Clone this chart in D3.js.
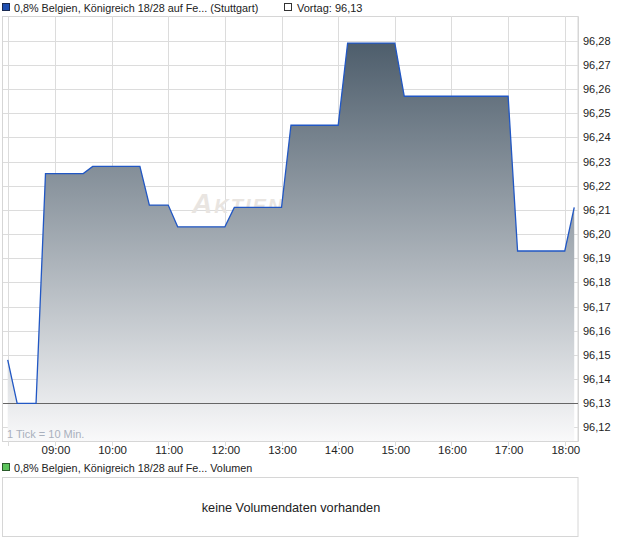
<!DOCTYPE html>
<html><head><meta charset="utf-8">
<script src="https://cdn.jsdelivr.net/npm/d3@7/dist/d3.min.js"></script>
<style>
body{margin:0;background:#fff;}
text{font-family:"Liberation Sans",Arial,sans-serif;}
</style></head>
<body><svg id="c" width="620" height="546"></svg>
<script>
// ---- data ----
const startTime = "08:10";            // first tick
const tickMinutes = 10;               // 1 Tick = 10 Min.
const prices = [
  96.148,
  96.13, 96.13, 96.13,
  96.225, 96.225, 96.225, 96.225, 96.225,
  96.228, 96.228, 96.228, 96.228, 96.228, 96.228,
  96.212, 96.212, 96.212,
  96.203, 96.203, 96.203, 96.203, 96.203, 96.203,
  96.211, 96.211, 96.211, 96.211, 96.211, 96.211,
  96.245, 96.245, 96.245, 96.245, 96.245, 96.245,
  96.279, 96.279, 96.279, 96.279, 96.279, 96.279,
  96.257, 96.257, 96.257, 96.257, 96.257, 96.257, 96.257, 96.257, 96.257, 96.257, 96.257, 96.257,
  96.193, 96.193, 96.193, 96.193, 96.193, 96.193,
  96.211
];
const previousClose = 96.13;
const xTickLabels = ["09:00","10:00","11:00","12:00","13:00","14:00","15:00","16:00","17:00","18:00"];
const yTickValues = [96.12,96.13,96.14,96.15,96.16,96.17,96.18,96.19,96.20,96.21,96.22,96.23,96.24,96.25,96.26,96.27,96.28];
const titlePrice = "0,8% Belgien, Königreich 18/28 auf Fe... (Stuttgart)";
const titlePrev = "Vortag: 96,13";
const titleVol = "0,8% Belgien, Königreich 18/28 auf Fe... Volumen";
const noVolText = "keine Volumendaten vorhanden";
const tickNote = "1 Tick = 10 Min.";

// ---- setup ----
const parse = d3.timeParse("%H:%M");
const t0 = parse(startTime);
const series = prices.map((v,i)=>({t:new Date(t0.getTime()+i*tickMinutes*60000), v}));
const fmtNum = v => d3.format(".2f")(v).replace(".", ",");

const svg = d3.select("#c");
const L=3, R=578, T=16, B=441;
const x = d3.scaleTime().domain([parse("08:05"), parse("18:14")]).range([L,R]);
const y = d3.scaleLinear().domain([96.1144, 96.2902]).range([B,T]);

// gradient
const defs = svg.append("defs");
const g = defs.append("linearGradient").attr("id","fillg")
  .attr("gradientUnits","userSpaceOnUse").attr("x1",0).attr("x2",0).attr("y1",T).attr("y2",B);
g.append("stop").attr("offset","0%").attr("stop-color","#425362");
g.append("stop").attr("offset","100%").attr("stop-color","#f9f9fa");

// frame background
svg.append("rect").attr("x",2.5).attr("y",T+0.5).attr("width",R-2.5).attr("height",B-T)
  .attr("fill","#fff").attr("stroke","#d6d6d6");

// grid
const gridColor="#dcdcdc";
svg.append("g").selectAll("line").data(yTickValues).join("line")
  .attr("x1",L).attr("x2",R)
  .attr("y1",d=>Math.round(y(d))+0.5).attr("y2",d=>Math.round(y(d))+0.5)
  .attr("stroke",gridColor);
const vTicks = [t0].concat(xTickLabels.map(parse));
svg.append("g").selectAll("line").data(vTicks).join("line")
  .attr("x1",d=>Math.round(x(d))+0.5).attr("x2",d=>Math.round(x(d))+0.5)
  .attr("y1",T).attr("y2",B+5)
  .attr("stroke",gridColor);

// watermark
svg.append("text").attr("x",192).attr("y",213)
  .attr("font-size",28).attr("font-style","italic").attr("font-weight","bold")
  .attr("font-variant","small-caps").attr("fill","#e9e5e1").attr("letter-spacing",2)
  .text("AktienCheck");

// area
const area = d3.area().x(d=>x(d.t)).y0(B).y1(d=>y(d.v));
svg.append("path").datum(series).attr("d",area).attr("fill","url(#fillg)");

// previous close line
svg.append("line").attr("x1",L).attr("x2",R)
  .attr("y1",Math.round(y(previousClose))+0.5).attr("y2",Math.round(y(previousClose))+0.5)
  .attr("stroke","#666").attr("stroke-width",1);

// price line
const line = d3.line().x(d=>x(d.t)).y(d=>y(d.v));
svg.append("path").datum(series).attr("d",line).attr("fill","none")
  .attr("stroke","#2157c4").attr("stroke-width",1.3);

// right axis
const yAxis = d3.axisRight(y).tickValues(yTickValues).tickFormat(fmtNum).tickSize(0).tickPadding(5);
const ya = svg.append("g").attr("transform",`translate(${R},0)`).call(yAxis);
ya.select(".domain").attr("stroke","#d6d6d6");
ya.selectAll("text").attr("font-size",11).attr("fill","#222").attr("font-family","Liberation Sans, Arial, sans-serif");

// x labels
svg.append("g").selectAll("text").data(xTickLabels).join("text")
  .attr("x",d=>x(parse(d))+1).attr("y",454).attr("text-anchor","middle")
  .attr("font-size",11.5).attr("fill","#222").text(d=>d);

// tick note
svg.append("text").attr("x",7).attr("y",438).attr("font-size",11).attr("fill","#a9b0bd").text(tickNote);

// top legend
svg.append("rect").attr("x",2.5).attr("y",3.5).attr("width",7).attr("height",7)
  .attr("fill","#1f4fb0").attr("stroke","#1a2a50");
svg.append("text").attr("x",14).attr("y",12).attr("font-size",10.8).attr("fill","#222").text(titlePrice);
svg.append("rect").attr("x",284.5).attr("y",3.5).attr("width",7).attr("height",7)
  .attr("fill","#fff").attr("stroke","#333");
svg.append("text").attr("x",297).attr("y",12).attr("font-size",11).attr("fill","#222").text(titlePrev);

// volume panel
svg.append("rect").attr("x",2.5).attr("y",463.5).attr("width",7).attr("height",7)
  .attr("fill","#5cc45c").attr("stroke","#2a5a2a");
svg.append("text").attr("x",14).attr("y",472).attr("font-size",10.8).attr("fill","#222").text(titleVol);
svg.append("rect").attr("x",2.5).attr("y",477.5).attr("width",R-2.5).attr("height",59)
  .attr("fill","#fff").attr("stroke","#d6d6d6");
svg.append("text").attr("x",291).attr("y",512).attr("text-anchor","middle")
  .attr("font-size",12.7).attr("fill","#222").text(noVolText);
</script></body></html>
